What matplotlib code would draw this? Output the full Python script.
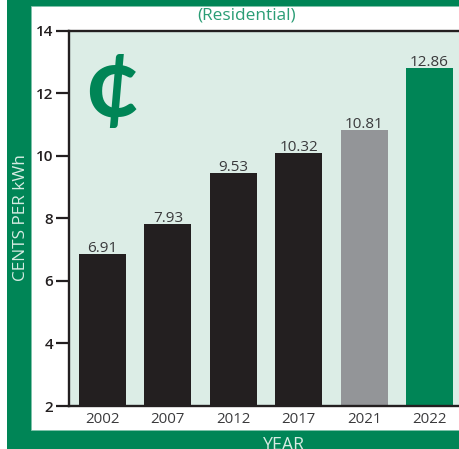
import matplotlib
matplotlib.use("Agg")
import matplotlib.pyplot as plt
from matplotlib.patches import Rectangle

years = ["2002", "2007", "2012", "2017", "2021", "2022"]
bar_heights = [6.86, 7.82, 9.44, 10.08, 10.81, 12.80]
value_labels = ["6.91", "7.93", "9.53", "10.32", "10.81", "12.86"]
bar_colors = ["#231f20", "#231f20", "#231f20", "#231f20", "#939598", "#008556"]
yticks = [2, 4, 6, 8, 10, 12, 14]

GREEN = "#008556"
W, H = 460, 449
plt.rcParams['font.family'] = ['Open Sans', 'DejaVu Sans']
fig = plt.figure(figsize=(W / 100, H / 100), dpi=100, facecolor="white")


def fx(x):
    return x / W


def fy(y):
    return 1 - y / H


fig.add_artist(Rectangle((fx(7), 0), fx(W - 7), 1, transform=fig.transFigure,
                         facecolor=GREEN, edgecolor="none", zorder=-10))
fig.add_artist(Rectangle((fx(31), fy(430)), fx(W - 31 + 2), (430 - 6) / H, transform=fig.transFigure,
                         facecolor="white", edgecolor="#7fc2aa", linewidth=0.6, zorder=-9))

L, R, T, B = 69, 460, 30.5, 406
ax = fig.add_axes([fx(L), fy(B), (R - L) / W, (B - T) / H], facecolor="#dcede6")
pos = list(range(len(years)))
ax.bar(pos, bar_heights, width=0.72, bottom=0, color=bar_colors, linewidth=0, zorder=2)
ax.set_xlim(-0.512, 5.466)
ax.set_ylim(2, 14)
for p, c, s in zip(pos, bar_heights, value_labels):
    ax.annotate(s, (p, c), xytext=(0, -1.5), textcoords="offset points", ha="center", va="bottom",
                fontsize=11, color="#3a3a3c", zorder=3)

ax.set_xticks(pos, years)
ax.tick_params(axis="x", length=0, pad=4, labelsize=10.8, labelcolor="#3a3a3c")
ax.set_yticks(yticks)
ax.tick_params(axis="y", length=9.5, width=1.6, color="#231f20", pad=2, labelsize=11,
               labelcolor="#231f20")
for t in ax.get_yticklabels():
    t.set_fontweight("semibold")
for side in ("top", "left", "bottom"):
    ax.spines[side].set_linewidth(1.7)
    ax.spines[side].set_color("#231f20")
    ax.spines[side].set_zorder(4)
ax.spines["right"].set_visible(False)

fig.text(fx(21), fy(218), "CENTS PER kWh", rotation=90, ha="center", va="center",
         fontsize=12.4, color="#d6ece3")
fig.text(fx(284), fy(444.5), "YEAR", ha="center", va="center", fontsize=12.8, color="#d6ece3",
         clip_on=True)
fig.text(fx(247), fy(15.5), "(Residential)", ha="center", va="center", fontsize=12.4,
         color="#2a9d75")
fig.text(fx(112), fy(88), "¢", ha="center", va="center", fontsize=72, fontweight="bold",
         family="Lato", color=GREEN)

fig.savefig("out.png", dpi=100, facecolor=fig.get_facecolor())
